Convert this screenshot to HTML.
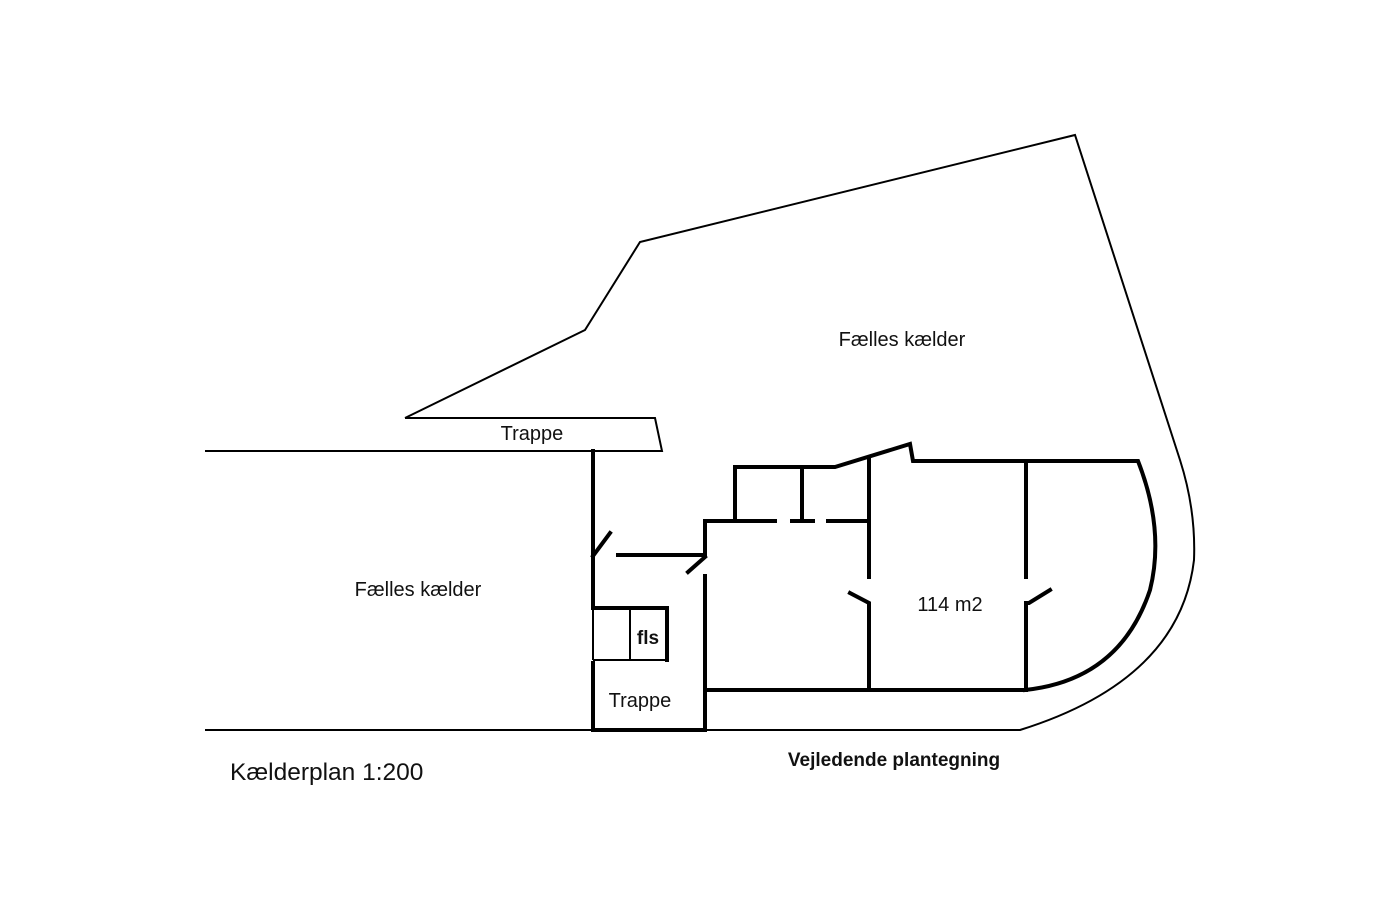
<!DOCTYPE html>
<html><head><meta charset="utf-8"><style>
html,body{margin:0;padding:0;background:#fff;}
svg{display:block}
text{font-family:"Liberation Sans",sans-serif;fill:#111;}
</style></head><body>
<svg width="1400" height="902" viewBox="0 0 1400 902" xmlns="http://www.w3.org/2000/svg">
<g fill="none" stroke="#000" stroke-width="2">
<path d="M405,418 L585,330 L640,242 L1075,135 L1180,460 Q1196,510 1194,560 Q1180,680 1020,730 L205,730"/>
<path d="M405,418 L655,418 L662,451 L205,451"/>
<path d="M593,660 L667,660 M593,608 L593,660 M630,608 L630,660"/>
</g>
<g fill="none" stroke="#000" stroke-width="4" stroke-linecap="square">
<path d="M593,451 L593,608 L667,608 L667,660"/>
<path d="M593,556 L610,533"/>
<path d="M618,555 L705,555 L705,521 L735,521 L735,467 L835,467 L910,444 L913,461 L1138,461 Q1165,530 1150,590 Q1120,680 1025,690"/>
<path d="M688,572 L705,557 M705,576 L705,730"/>
<path d="M735,521 L775,521 M792,521 L813,521 M802,467 L802,521 M828,521 L868,521"/>
<path d="M869,458 L869,577 M850,593 L869,603 L869,690"/>
<path d="M1026,463 L1026,577 M1050,590 L1029,603 L1026,603 L1026,690"/>
<path d="M705,690 L1025,690"/>
<path d="M593,663 L593,730 L705,730"/>
</g>
<text x="902" y="346" font-size="20" text-anchor="middle">Fælles kælder</text>
<text x="418" y="596" font-size="20" text-anchor="middle">Fælles kælder</text>
<text x="532" y="440" font-size="20" text-anchor="middle">Trappe</text>
<text x="640" y="707" font-size="20" text-anchor="middle">Trappe</text>
<text x="648" y="644" font-size="19" text-anchor="middle" font-weight="bold">fls</text>
<text x="950" y="611" font-size="20" text-anchor="middle">114 m2</text>
<text x="894" y="766" font-size="19" text-anchor="middle" font-weight="bold">Vejledende plantegning</text>
<text x="230" y="780" font-size="24.5">Kælderplan 1:200</text>
</svg>
</body></html>
